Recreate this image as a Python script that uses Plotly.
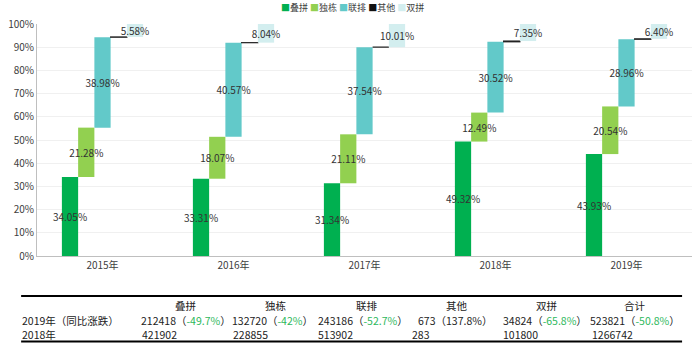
import numpy as np
import plotly.graph_objects as go

years = ['2015年', '2016年', '2017年', '2018年', '2019年']
series = ['叠拼', '独栋', '联排', '其他', '双拼']
die_pin = [34.05, 33.31, 31.34, 49.32, 43.93]
du_dong = [21.28, 18.07, 21.11, 12.49, 20.54]
lian_pai = [38.98, 40.57, 37.54, 30.52, 28.96]
qi_ta = [0.11, 0.01, 0.0, 0.32, 0.17]
shuang_pin = [5.58, 8.04, 10.01, 7.35, 6.40]
colors = ['#00b050', '#92d050', '#62c9c9', '#111111', '#d3eeef']

table_cols = ['叠拼', '独栋', '联排', '其他', '双拼', '合计']
row1_label = '2019年（同比涨跌）'
row2_label = '2018年'
vals_2019 = [212418, 132720, 243186, 673, 34824, 523821]
yoy_2019 = ['-49.7%', '-42%', '-52.7%', '137.8%', '-65.8%', '-50.8%']
vals_2018 = [421902, 228855, 513902, 283, 101800, 1266742]

W, H = 700, 347
L, R, T, B = 32, 8, 24, 91
def px_x(p):
    return (p - L) / (W - L - R)
def px_y(p):
    return (H - B - p) / (H - T - B)

FONT = 'Noto Sans CJK SC'
data = np.array([die_pin, du_dong, lian_pai, qi_ta, shuang_pin])
bases = np.vstack([np.zeros(len(years)), np.cumsum(data, axis=0)[:-1]])

fig = go.Figure()
for i, name in enumerate(series):
    vals = data[i]
    if name == '其他':
        texts = [''] * len(years)
        line = dict(color='#222222', width=1.2)
    else:
        texts = [f'{v:.2f}%' for v in vals]
        line = dict(width=0)
    fig.add_trace(go.Bar(
        x=years, y=vals, base=bases[i], name=name,
        marker=dict(color=colors[i], line=line),
        text=texts, textposition='inside', constraintext='none',
        insidetextanchor='middle', textangle=0,
        insidetextfont=dict(color='#333333', size=10, family=FONT),
        showlegend=False, hoverinfo='skip',
    ))

fig.update_layout(
    width=W, height=H, autosize=False,
    margin=dict(l=L, r=R, t=T, b=B),
    barmode='group', bargap=0.38, bargroupgap=0,
    plot_bgcolor='white', paper_bgcolor='white',
    font=dict(family=FONT, size=10, color='#404040'),
)
fig.update_yaxes(range=[0, 100], dtick=10, ticksuffix='%', gridcolor='#f0f0f0',
                 showline=True, linecolor='#bfbfbf', linewidth=1, zeroline=False,
                 tickfont=dict(size=10, color='#404040'))
fig.update_xaxes(showline=True, linecolor='#bfbfbf', linewidth=1,
                 tickfont=dict(size=10, color='#404040'))

# legend as text row
leg = ' '.join(f'<span style="color:{c}">■</span>{n}' for n, c in zip(series, colors))
fig.add_annotation(text=leg, xref='paper', yref='paper', x=px_x(350), y=px_y(7),
                   xanchor='center', yanchor='middle', showarrow=False, borderpad=0,
                   font=dict(size=9, color='#404040', family=FONT))

# table
fig.add_shape(type='line', xref='paper', yref='paper', x0=px_x(16), x1=px_x(682),
              y0=px_y(296), y1=px_y(296), line=dict(color='black', width=2))
fig.add_shape(type='line', xref='paper', yref='paper', x0=px_x(16), x1=px_x(682),
              y0=px_y(341.5), y1=px_y(341.5), line=dict(color='black', width=2))

head_cx = [182, 273, 365, 455, 545, 635]
col_x1 = [136, 227, 314, 415, 501, 588]
col_x2 = [137, 228, 314, 409, 501, 590]
tf = dict(size=10.5, color='#222222', family=FONT)
common = dict(xref='paper', yref='paper', yanchor='middle', showarrow=False,
              borderpad=0, font=tf)
for h, cx in zip(table_cols, head_cx):
    fig.add_annotation(text=h, x=px_x(cx), y=px_y(305), xanchor='center', **common)
fig.add_annotation(text=row1_label, x=px_x(16), y=px_y(320), xanchor='left', **common)
fig.add_annotation(text=row2_label, x=px_x(16), y=px_y(334), xanchor='left', **common)
for v, p, x in zip(vals_2019, yoy_2019, col_x1):
    pc = '#2eb85c' if p.startswith('-') else '#222222'
    t = f'{v}（<span style="color:{pc}">{p}</span>）'
    fig.add_annotation(text=t, x=px_x(x), y=px_y(320), xanchor='left', **common)
for v, x in zip(vals_2018, col_x2):
    fig.add_annotation(text=str(v), x=px_x(x), y=px_y(334), xanchor='left', **common)

fig.write_html('out.html')
